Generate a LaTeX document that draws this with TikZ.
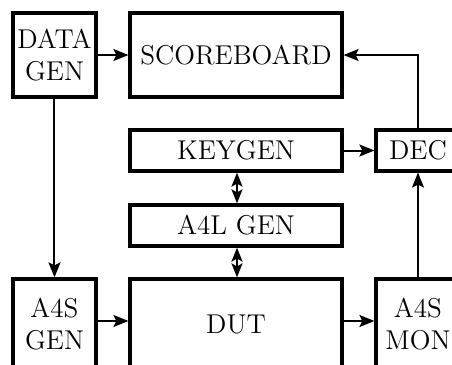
\documentclass[tikz,border=0pt]{standalone}
\usetikzlibrary{arrows.meta}
\begin{document}
\begin{tikzpicture}[x=0.5pt,y=-0.5pt,
  blk/.style={draw,line width=1.6pt,rectangle,inner sep=0pt,align=center,
    font=\fontsize{13.6}{15.8}\selectfont},
  link/.style={line width=1pt,-{Stealth[length=7.5pt,width=6pt,inset=1.5pt]}},
  dlink/.style={line width=1pt,{Stealth[length=7pt,width=5.5pt,inset=1.5pt]}-{Stealth[length=7pt,width=5.5pt,inset=1.5pt]}}]
\useasboundingbox (0,0) rectangle (452,365);
\clip (0,0) rectangle (452,365);
% blocks
\node[blk,minimum width=41.5pt,minimum height=42pt] (datagen) at (54.5,55) {DATA\\GEN};
\node[blk,minimum width=106pt,minimum height=42pt] (score) at (236,55) {SCOREBOARD};
\node[blk,minimum width=106pt,minimum height=20.5pt] (keygen) at (236,150.5) {KEYGEN};
\node[blk,minimum width=42pt,minimum height=20.5pt] (dec) at (418,150.5) {DEC};
\node[blk,minimum width=106pt,minimum height=20.5pt] (a4l) at (236,225.5) {A4L GEN};
\node[blk,minimum width=41.5pt,minimum height=45pt] (a4sgen) at (54.5,324) {A4S\\GEN};
\node[blk,minimum width=106pt,minimum height=45pt] (dut) at (236,324) {DUT};
\node[blk,minimum width=42pt,minimum height=45pt] (a4smon) at (418,324) {A4S\\MON};
% connections
\draw[link] (datagen.east) -- (score.west);
\draw[link] (datagen.south) -- (a4sgen.north);
\draw[link] ([yshift=1.5pt]a4sgen.east) -- ([yshift=1.5pt]dut.west);
\draw[link] ([yshift=1.5pt]dut.east) -- ([yshift=1.5pt]a4smon.west);
\draw[link] (a4smon.north) -- (dec.south);
\draw[link] (keygen.east) -- (dec.west);
\draw[link] (dec.north) |- (score.east);
\draw[dlink] ([xshift=0.5pt]keygen.south) -- ([xshift=0.5pt]a4l.north);
\draw[dlink] ([xshift=0.5pt]a4l.south) -- ([xshift=0.5pt]dut.north);
\end{tikzpicture}
\end{document}
